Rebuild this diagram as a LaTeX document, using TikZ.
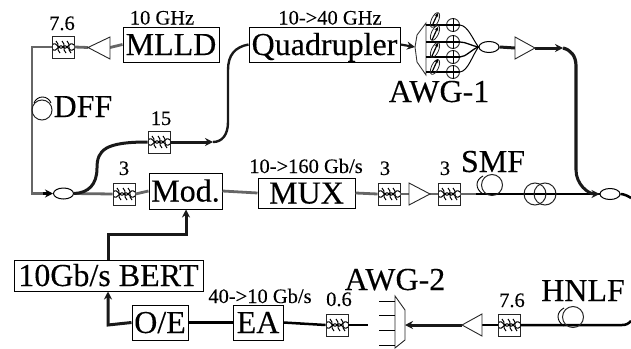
\documentclass[tikz,border=0pt]{standalone}
\usepackage{fontspec}
\setmainfont{Liberation Serif}[FakeBold=0.25]
\usetikzlibrary{arrows.meta,shapes.geometric}
\newcommand{\fs}[1]{\fontsize{#1}{#1}\selectfont}
\tikzset{
  x=1pt,y=-1pt,
  box/.style={draw=black,line width=1pt,fill=white,inner sep=0pt,text height=21pt,text depth=0pt,font=\fs{32}},
  lab/.style={anchor=base,inner sep=0pt,text=black},
  small/.style={lab,font=\fs{20.5}},
  big/.style={lab,font=\fs{32}},
  filt/.style={draw=black!85,line width=.9pt,fill=white,minimum size=22pt,inner sep=0pt,
    path picture={
      \begin{scope}[shift={(path picture bounding box.center)},black,line width=1pt]
        \draw (-11,-2) .. controls (-6,-7) and (-4,5) .. (0,0) .. controls (4,-5) and (6,7) .. (11,2);
        \draw (-11,2) .. controls (-6,7) and (-4,-5) .. (0,0) .. controls (4,5) and (6,-7) .. (11,-2);
        \draw (-7,-6) .. controls (-3,-3) and (-7,3) .. (-3,6);
        \draw (-1,-6) .. controls (3,-3) and (-1,3) .. (3,6);
        \draw (4,-6) .. controls (8,-3) and (4,3) .. (8,6);
      \end{scope}}},
  ampl/.style={draw=black!85,line width=.9pt,fill=white,line join=miter},
  cpl/.style={draw=black,line width=1pt,ellipse,inner sep=0pt,minimum width=20pt,minimum height=11pt},
  coil/.style={draw=black!85,line width=1pt,circle,inner sep=0pt},
  fib/.style={draw=black!60,line width=2.8pt},
  blk/.style={draw=black,line width=2.5pt},
  thk/.style={draw=black!90,line width=3pt},
  tip/.style={-{Stealth[length=8pt,width=8pt]}},
  thin/.style={draw=black,line width=.9pt},
}
\begin{document}
\begin{tikzpicture}
\useasboundingbox (0,0) rectangle (631,348);
% boxes
\node[box,minimum width=96pt,minimum height=35pt] (mlld) at (171,44.5) {MLLD};
\node[box,minimum width=151pt,minimum height=35pt] (quad) at (324.5,44.5) {Quadrupler};
\node[box,minimum width=73pt,minimum height=36pt] (mod) at (185.5,191) {Mod.};
\node[box,minimum width=97pt,minimum height=30pt] (mux) at (306.5,193) {MUX};
\node[box,minimum width=189pt,minimum height=31pt] (bert) at (108.5,275.5) {10Gb/s BERT};
\node[box,minimum width=56pt,minimum height=35pt] (oe) at (160,322.5) {O/E};
\node[box,minimum width=50pt,minimum height=35pt] (ea) at (258,322.5) {EA};
% filters
\node[filt] (f1) at (63,47) {};
\node[filt] (f2) at (159,142) {};
\node[filt] (f3) at (124,194) {};
\node[filt] (f4) at (389,194) {};
\node[filt] (f5) at (449,194) {};
\node[filt] (f6) at (337,325) {};
\node[filt] (f7) at (509,325) {};
% amplifier points
\coordinate (a1t) at (88,47.5); \coordinate (a1b) at (110,47.5);
\coordinate (a2t) at (535,48);  \coordinate (a2b) at (515,48);
\coordinate (a3t) at (430,194); \coordinate (a3b) at (409,194);
\coordinate (a4t) at (462,325); \coordinate (a4b) at (482,325);
% couplers
\node[cpl] (c1) at (63.5,193.5) {};
\node[cpl] (c2) at (489,47) {};
\node[cpl] (c3) at (610,194) {};
% connectors: grey fibre
\coordinate (tl) at (32,47);
\coordinate (bl) at (32,193.5);
\draw[fib] (a1b) -- (mlld.west);
\draw[fib] (a1t) -- (f1.east);
\draw[fib] (f1.west) -- (tl) -- (bl) -- (50,193.5);
\draw[blk,tip] (43,193.5) -- (c1.west);
\draw[fib] (c1.east) -- (f3.west);
\draw[fib] (f3.east) -- (mod.west);
\draw[fib] (mod.east) -- (mux.west);
\draw[fib] (mux.east) -- (f4.west);
\draw[fib] (f4.east) -- (a3b);
\draw[fib] (a3t) -- (f5.west);
\draw[fib] (f5.east) -- (476,194);
\draw[thin,line width=1.3pt] (476,194) -- (c3.west);
% thick fibre
\draw[thk] (c1.east) .. controls (88,193) and (97,185) .. (97,168) .. controls (97,150) and (105,142) .. (f2.west);
\coordinate (r1) at (213,142);
\draw[thk,tip] (f2.east) -- (r1);
\draw[thk,line width=2.4pt] (r1) .. controls (222,142) and (228,135) .. (228,122) -- (228,70) .. controls (228,55) and (235,47) .. (quad.west);
\coordinate (d1) at (415,47);
\draw[thk,line width=2.2pt,tip] (quad.east) -- (d1);
\draw[thk] (c2.east) -- (a2b);
\coordinate (r2) at (563,48);
\draw[thk,tip] (a2t) -- (r2);
\draw[thk,line width=3.2pt] (r2) .. controls (571,50) and (576,56) .. (576,66) -- (576,170);
\draw[thk,tip] (576,170) .. controls (576,184) and (588,194) .. (c3.west);
\draw[blk] (c3.east) .. controls (624,194) and (628,196) .. (631,198);
\draw[blk] (631,321) .. controls (628,324) and (626,325) .. (622,325) -- (f7.east);
\draw[blk] (f7.west) -- (a4b);
\coordinate (d2) at (405,325);
\draw[thk,tip] (a4t) -- (d2);
\coordinate (gap) at (368,325);
\draw[blk] (f6.east) -- (gap);
\draw[blk] (ea.east) -- (f6.west);
\draw[blk] (oe.east) -- (ea.west);
\coordinate (oc) at (108,325);
\draw[thk,tip] (oe.west) -- (oc) -- (oc |- bert.south);
\coordinate (b1) at (108,234);
\coordinate (b2) at (186,234);
\draw[thk,tip] (b1 |- bert.north) -- (b1) -- (b2) -- (b2 |- mod.south);
% amplifiers
\draw[ampl] (a1t) -- (110,37) -- (110,59) -- cycle;
\draw[ampl] (a2t) -- (515,37) -- (515,59) -- cycle;
\draw[ampl] (a3t) -- (409,183) -- (409,205) -- cycle;
\draw[ampl] (a4t) -- (482,314) -- (482,336) -- cycle;
% fibre coils
\node[coil,minimum size=20pt] (dff) at (42,110) {};
\draw[thin] (34,103) .. controls (37,95) and (48,95) .. (51,103);
\node[coil,minimum size=21pt] (smf) at (492,185) {};
\draw[thin] (483,194) .. controls (475,189) and (475,180) .. (483,176);
\node[coil,minimum size=21pt] (hnlf) at (573,317) {};
\draw[thin] (564,326) .. controls (556,321) and (556,312) .. (564,308);
\node[coil,minimum size=22pt] (p1) at (535,194) {};
\node[coil,minimum size=22pt] (p2) at (545,194) {};
% AWG-1
\draw[draw=black!80,line width=.9pt] (426,23) -- (417,35) -- (415,47) -- (417,62) -- (426,75) -- cycle;
\foreach \i/\y in {1/25,2/42,3/57,4/72}{
  \node[coil,minimum size=13pt,line width=.9pt] (ph\i) at (453,\y) {};
  \draw[thin] (ph\i.north) -- (ph\i.south);
  \draw[blk,line width=1.4pt] (426,\y) -- (ph\i.east);
}
\foreach \y in {20,33,50,67}{
  \draw[black!85,line width=.8pt,rotate around={65:(435,\y)}] (435,\y) ellipse[x radius=8pt,y radius=3.5pt];
}
\foreach \y in {20,34,50,66}{
  \draw[black,line width=1.2pt,-{Stealth[length=4pt,width=4pt]}] (432,\y+6) -- (438,\y-7);
}
\draw[thin,line width=1.3pt] (ph2.east) .. controls (466,42) and (472,46) .. (c2.west);
\draw[thin,line width=1.3pt] (ph3.east) .. controls (466,57) and (472,49) .. (c2.west);
\draw[thin,line width=1pt] (ph1.east) .. controls (468,26) and (472,38) .. (c2.west);
\draw[thin,line width=1pt] (ph4.east) .. controls (468,71) and (472,56) .. (c2.west);
% AWG-2
\draw[draw=black!85,line width=.9pt] (395,296) -- (405,310) -- (405,340) -- (395,348) -- cycle;
\foreach \i/\y in {1/301,2/315,3/330,4/345}{
  \coordinate (w\i) at (379,\y);
  \draw[draw=black,line width=1pt] (w\i) -- (395,\y);
}
% labels
\node[small] (l1) at (62,30) {7.6};
\node[small] (l2) at (162,24.5) {10 GHz};
\node[small] (l3) at (330,24.5) {10->40 GHz};
\node[small] (l4) at (161,125) {15};
\node[small] (l5) at (124,175) {3};
\node[small] (l6) at (306,173) {10->160 Gb/s};
\node[small] (l7) at (385,175) {3};
\node[small] (l8) at (445,175) {3};
\node[small] (l9) at (260,303) {40->10 Gb/s};
\node[small] (l10) at (339,306) {0.6};
\node[small] (l11) at (512,307) {7.6};
\node[big] (l12) at (83,117) {DFF};
\node[big] (l13) at (493,172) {SMF};
\node[big] (l14) at (439,102) {AWG-1};
\node[big] (l15) at (395,290) {AWG-2};
\node[big] (l16) at (583,301) {HNLF};
\end{tikzpicture}
\end{document}
